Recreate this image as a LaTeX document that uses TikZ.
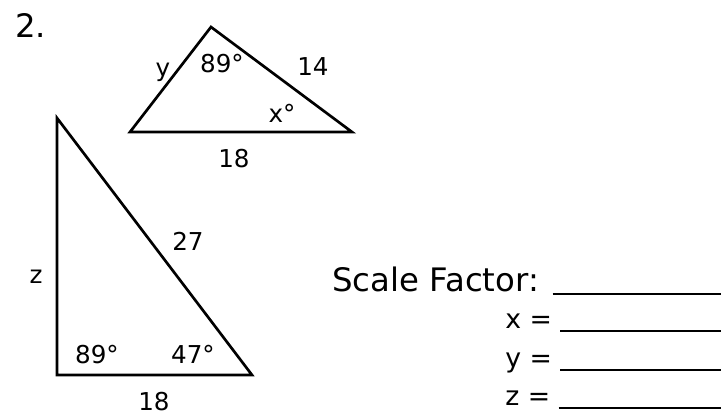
\documentclass[tikz,border=0pt]{standalone}
\usepackage{fontspec}
\setmainfont{DejaVu Sans}
\usetikzlibrary{positioning}

\newcommand{\answerline}[1]{\rule[-0.1cm]{#1}{1.4pt}}

\begin{document}
\begin{tikzpicture}[
    x=0.025cm, y=-0.025cm,
    tri/.style={line width=1.9pt, line join=miter},
    lbl/.style={inner sep=0pt, anchor=base, font=\fontsize{17.5}{21}\selectfont},
    big/.style={inner sep=0pt, font=\fontsize{23}{27}\selectfont},
    ans/.style={inner sep=0pt, anchor=base west, font=\fontsize{19}{22}\selectfont}
]
    \useasboundingbox (0,0) rectangle (721,414);

    \node[big, anchor=base west] (num) at (15,37) {2.};

    % small triangle
    \coordinate (sA) at (211,27);
    \coordinate (sB) at (130,132);
    \coordinate (sC) at (352,132);
    \draw[tri] (sA) -- (sB) -- (sC) -- cycle;

    \node[lbl] (sy) at (163,76) {y};
    \node[lbl] (sang) at (222,72) {89°};
    \node[lbl] (s14) at (313,75) {14};
    \node[lbl] (sx) at (282,122) {x°};
    \node[lbl] (s18) at (234,167) {18};

    % big triangle
    \coordinate (bA) at (57,118);
    \coordinate (bB) at (57,375);
    \coordinate (bC) at (252,375);
    \draw[tri] (bA) -- (bB) -- (bC) -- cycle;

    \node[lbl] (b27) at (188,250) {27};
    \node[lbl] (bz) at (36,283) {z};
    \node[lbl] (bang1) at (97,363) {89°};
    \node[lbl] (bang2) at (193,363) {47°};
    \node[lbl] (b18) at (154,410) {18};

    % answers
    \node[big, anchor=base west] (scale) at (332,291) {Scale Factor: \answerline{6cm}};
    \node[ans] (xans) at (505,328) {x = \answerline{5cm}};
    \node[ans] (yans) at (505,367) {y = \answerline{5cm}};
    \node[ans] (zans) at (505,405) {z = \answerline{5cm}};
\end{tikzpicture}
\end{document}
